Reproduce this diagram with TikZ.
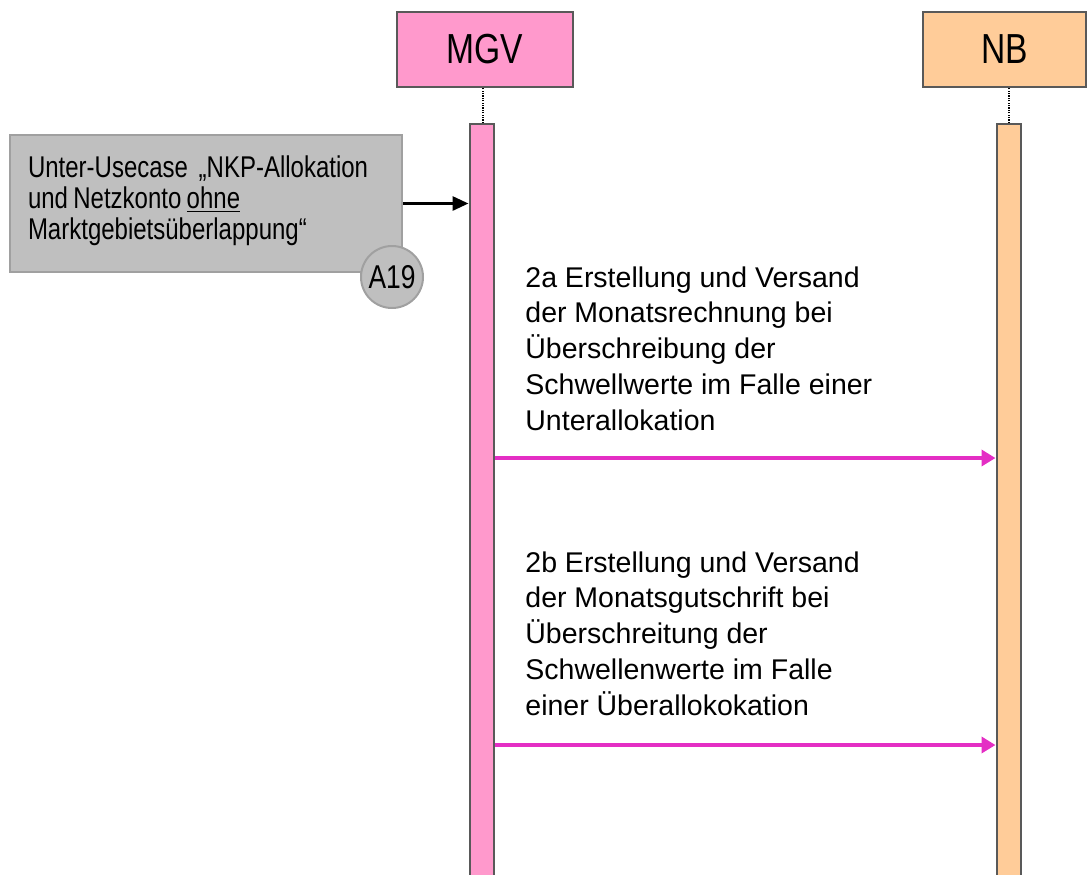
\documentclass[tikz,border=0pt]{standalone}
\usepackage{fontspec}
\setmainfont{Liberation Sans}
\newfontfamily\schmal[FakeStretch=0.8, WordSpace=0.8]{Liberation Sans}
\usetikzlibrary{arrows.meta,positioning}
\definecolor{fg}{RGB}{0,0,0}
\definecolor{rand}{RGB}{89,89,89}
\definecolor{mgvfill}{RGB}{255,153,204}
\definecolor{nbfill}{RGB}{255,204,153}
\definecolor{grau}{RGB}{191,191,191}
\definecolor{graurand}{RGB}{160,160,160}
\definecolor{msg}{RGB}{228,46,196}
\tikzset{
  every picture/.style={x=0.5pt, y=-0.5pt, line join=miter},
  % Kopfzeilen der Beteiligten
  kopf/.style={draw=rand, line width=1pt, minimum height=37.5pt, inner sep=0pt,
    font=\schmal\fontsize{21}{24}\selectfont},
  % Aktivierungsbalken und gepunktete Lebenslinie
  balken/.style={draw=rand, line width=1pt, minimum width=12pt, minimum height=400pt,
    inner sep=0pt, anchor=north},
  leben/.style={fg, line width=0.8pt, dash pattern=on 0.6pt off 0.6pt},
  % Nachrichten
  nachricht/.style={msg, line width=1.8pt, -{Triangle[length=7pt,width=8pt]}},
  verweis/.style={fg, line width=1.5pt, -{Triangle[length=8pt,width=7pt]}},
  % Unter-Usecase mit Marke
  usecasebox/.style={draw=graurand, fill=grau, line width=1pt, minimum width=196pt,
    minimum height=68.5pt, text width=178pt, inner xsep=9pt, align=flush left,
    font=\schmal\fontsize{15}{15.5}\selectfont},
  marke/.style={circle, draw=graurand, fill=grau, line width=1pt, minimum size=31pt,
    inner sep=0pt, font=\schmal\fontsize{16.5}{18}\selectfont},
  schritt/.style={anchor=north west, align=flush left, inner sep=0pt,
    font=\fontsize{14.25}{17.9}\selectfont},
}
\begin{document}
\begin{tikzpicture}
  \useasboundingbox (0,0) rectangle (1087,874);
  \clip (0,0) rectangle (1087,874);
  % Beteiligte
  \node[kopf, fill=mgvfill, minimum width=88pt] (mgv) at (485,49.5) {MGV};
  \node[kopf, fill=nbfill, minimum width=81.5pt] (nb) at (1004.5,49.5) {NB};
  \node[balken, fill=mgvfill] (mgvbar) at (481.5,123) {};
  \node[balken, fill=nbfill] (nbbar) at (1008.5,123) {};
  \draw[leben] (mgvbar.north -| 483,0) -- (mgv.south -| 483,0);
  \draw[leben] (nbbar.north -| 1009,0) -- (nb.south -| 1009,0);
  % Unter-Usecase
  \node[usecasebox] (usecase) at (206,203.5)
    {Unter-Usecase\ \ „NKP-Allokation\\ und Netzkonto \underline{ohne}\\
     Marktgebietsüberlappung“\rule[-6.2pt]{0pt}{1pt}};
  \node[marke] (a19) at (392,277) {A19};
  \draw[verweis] (usecase.east) -- (usecase.east -| mgvbar.west);
  % Schritte 2a und 2b
  \node[schritt] (txta) at (525,266)
    {2a Erstellung und Versand\\ der Monatsrechnung bei\\ Überschreibung der\\
     Schwellwerte im Falle einer\\ Unterallokation};
  \draw[nachricht] (mgvbar.east |- 0,458) -- (nbbar.west |- 0,458);
  \node[schritt] (txtb) at (525,551)
    {2b Erstellung und Versand\\ der Monatsgutschrift bei\\ Überschreitung der\\
     Schwellenwerte im Falle\\ einer Überallokokation};
  \draw[nachricht] (mgvbar.east |- 0,745) -- (nbbar.west |- 0,745);
\end{tikzpicture}
\end{document}
